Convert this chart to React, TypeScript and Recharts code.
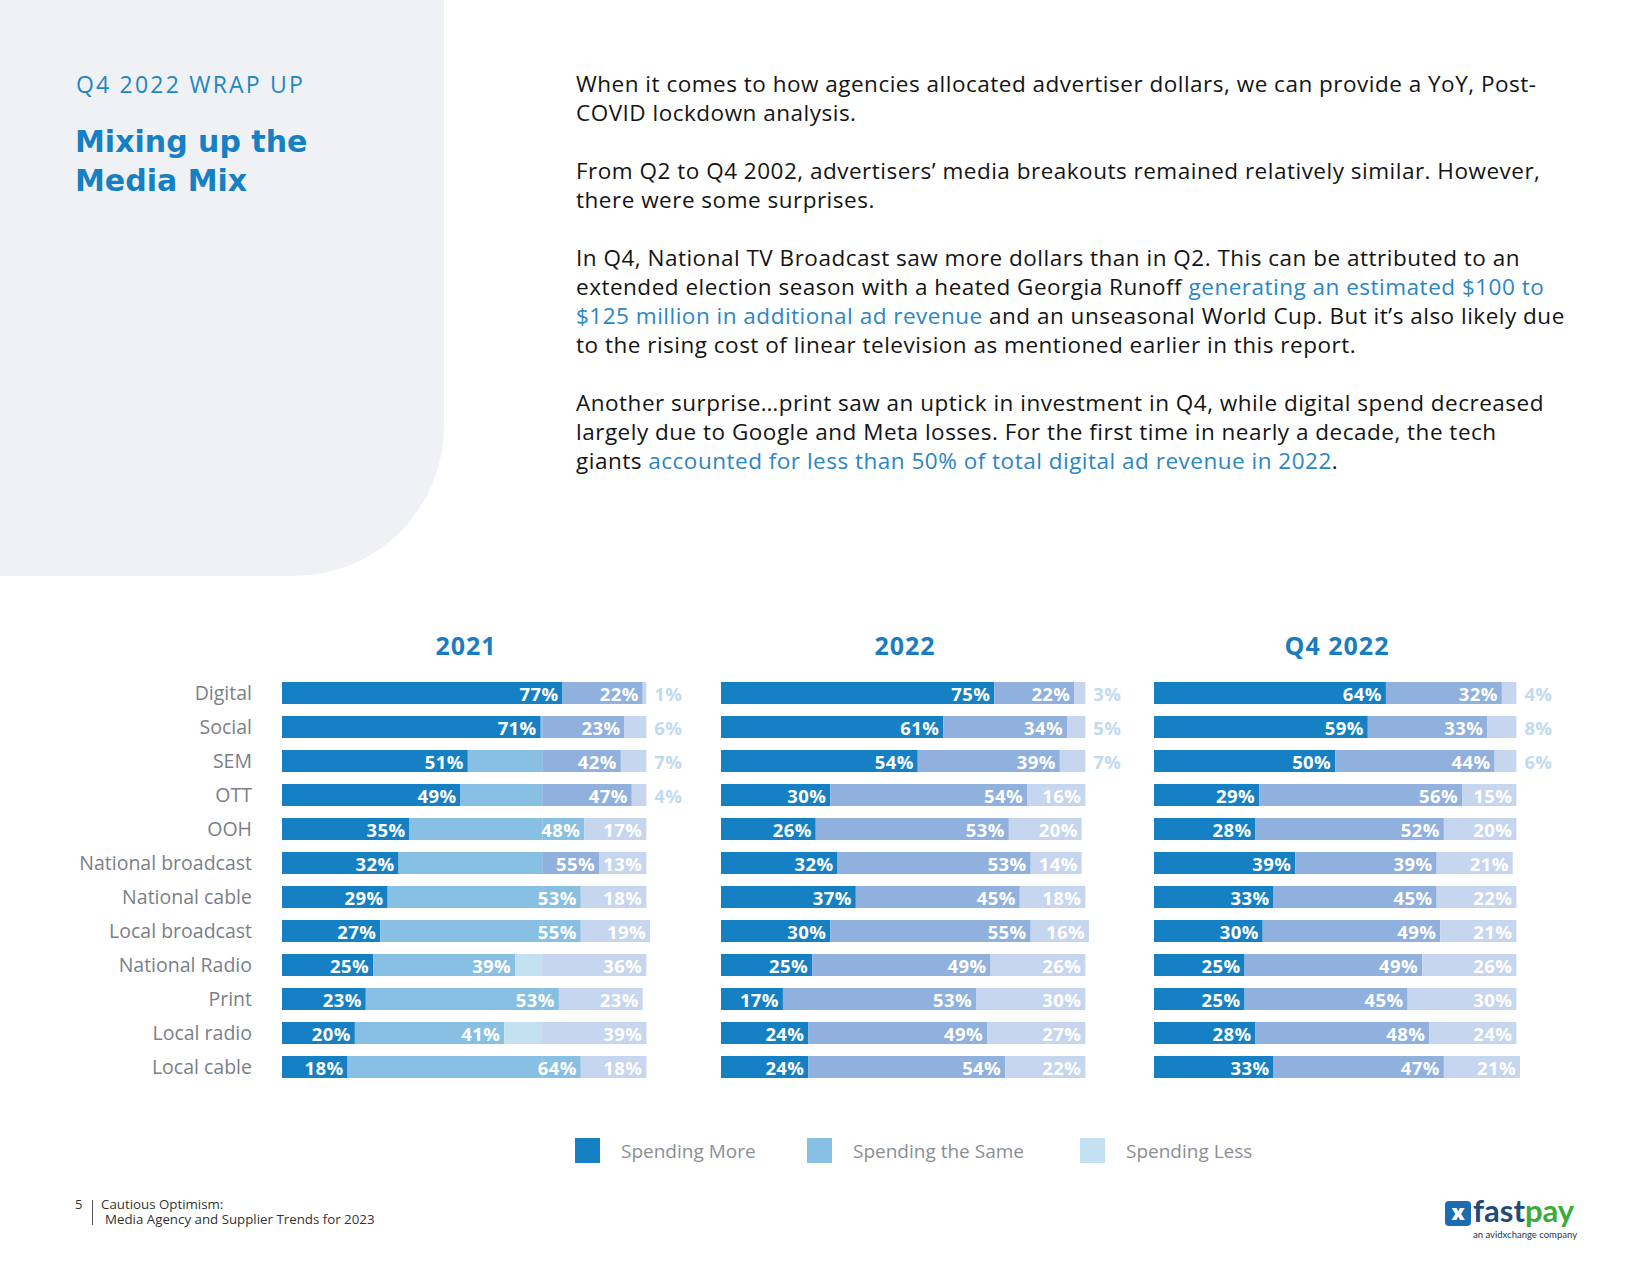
import React from "react";
import { BarChart, Bar, XAxis, YAxis, LabelList } from "recharts";

const categories = [
  "Digital", "Social", "SEM", "OTT", "OOH", "National broadcast", "National cable",
  "Local broadcast", "National Radio", "Print", "Local radio", "Local cable",
];

const more2021 = [77, 71, 51, 49, 35, 32, 29, 27, 25, 23, 20, 18];
const same2021 = [22, 23, 42, 47, 48, 55, 53, 55, 39, 53, 41, 64];
const less2021 = [1, 6, 7, 4, 17, 13, 18, 19, 36, 23, 39, 18];

const more2022 = [75, 61, 54, 30, 26, 32, 37, 30, 25, 17, 24, 24];
const same2022 = [22, 34, 39, 54, 53, 53, 45, 55, 49, 53, 49, 54];
const less2022 = [3, 5, 7, 16, 20, 14, 18, 16, 26, 30, 27, 22];

const moreQ4 = [64, 59, 50, 29, 28, 39, 33, 30, 25, 25, 28, 33];
const sameQ4 = [32, 33, 44, 56, 52, 39, 45, 49, 49, 45, 48, 47];
const lessQ4 = [4, 8, 6, 15, 20, 21, 22, 21, 26, 30, 24, 21];

const seriesNames = ["Spending More", "Spending the Same", "Spending Less"];

const FONT = "'Open Sans', Lato, sans-serif";
const HEAD_FONT = "'DejaVu Sans', 'Open Sans', sans-serif";
const C_MORE = "#1581c4";
const C_SKY = "#88c0e4";
const C_SKY_LIGHT = "#c4e1f2";
const C_PERI = "#90b1de";
const C_LAV = "#c6d6ef";
const C_OUT = "#c2daef";
const legendColors = [C_MORE, C_SKY, C_SKY_LIGHT];

// the 2021 panel switches to the 2022 palette past this point (as in the source pdf)
const P1_LEFT = 282;
const P1_WIDTH = 368;
const SPLIT_PCT = 70.7;
const periRows2021 = ["Digital", "Social", "SEM", "OTT", "National broadcast"];

const toRows = (more: number[], same: number[], less: number[]) =>
  categories.map((c, i) => ({ category: c, more: more[i], same: same[i], less: less[i] }));

const rows2021 = toRows(more2021, same2021, less2021);
const rows2022 = toRows(more2022, same2022, less2022);
const rowsQ4 = toRows(moreQ4, sameQ4, lessQ4);

function splitShape(leftFill: string, rightFill: (cat: string) => string) {
  return (p: any) => {
    const { x, y, width, height, payload } = p;
    const cut = P1_LEFT + (P1_WIDTH * SPLIT_PCT) / 100;
    const rf = rightFill(payload?.category);
    if (x >= cut) return <rect x={x} y={y} width={width} height={height} fill={rf} />;
    if (x + width <= cut) return <rect x={x} y={y} width={width} height={height} fill={leftFill} />;
    return (
      <g>
        <rect x={x} y={y} width={cut - x} height={height} fill={leftFill} />
        <rect x={cut} y={y} width={x + width - cut} height={height} fill={rf} />
      </g>
    );
  };
}

const valueLabel = (props: any) => {
  const vb = props.viewBox ?? props;
  const { x, y, width, height } = vb;
  const outside = width < 40;
  return (
    <text
      x={outside ? x + width + 8 : x + width - 4}
      y={y + height / 2}
      textAnchor={outside ? "start" : "end"}
      dominantBaseline="central"
      fill={outside ? C_OUT : "#ffffff"}
      fontSize={18.5}
      fontWeight={700}
      letterSpacing={0.4}
      fontFamily={FONT}
    >
      {props.value}%
    </text>
  );
};

type PanelProps = {
  data: any[];
  left: number;
  width: number;
  margin: { top: number; right: number; bottom: number; left: number };
  showAxis?: boolean;
  is2021?: boolean;
};

function Panel({ data, left, width, margin, showAxis, is2021 }: PanelProps) {
  return (
    <div style={{ position: "absolute", left, top: 620 }}>
      <BarChart width={width} height={500} data={data} layout="vertical" margin={margin} barSize={22}>
        <XAxis type="number" domain={[0, 100]} hide />
        <YAxis
          type="category"
          dataKey="category"
          hide={!showAxis}
          width={250}
          axisLine={false}
          tickLine={false}
          tickSize={0}
          tickMargin={30}
          tick={{ fill: "#7b8088", fontSize: 19.5, fontFamily: FONT }}
        />
        <Bar dataKey="more" stackId="a" fill={C_MORE} isAnimationActive={false}>
          <LabelList dataKey="more" content={valueLabel} />
        </Bar>
        <Bar
          dataKey="same"
          stackId="a"
          fill={is2021 ? C_SKY : C_PERI}
          isAnimationActive={false}
          shape={is2021 ? splitShape(C_SKY, (c) => (periRows2021.includes(c) ? C_PERI : C_SKY)) : undefined}
        >
          <LabelList dataKey="same" content={valueLabel} />
        </Bar>
        <Bar
          dataKey="less"
          stackId="a"
          fill={is2021 ? C_SKY_LIGHT : C_LAV}
          isAnimationActive={false}
          shape={is2021 ? splitShape(C_SKY_LIGHT, () => C_LAV) : undefined}
        >
          <LabelList dataKey="less" content={valueLabel} />
        </Bar>
      </BarChart>
    </div>
  );
}

const titleStyle = (left: number, width: number): React.CSSProperties => ({
  position: "absolute",
  left,
  width,
  top: 633,
  textAlign: "center",
  fontFamily: FONT,
  fontWeight: 700,
  fontSize: 25,
  lineHeight: "25px",
  letterSpacing: 1,
  color: "#1a7dc0",
});

const body: React.CSSProperties = { whiteSpace: "nowrap" };
const link: React.CSSProperties = { color: "#2b86c5" };

export default function App() {
  const legendX = [575, 807, 1080];
  return (
    <div style={{ position: "absolute", left: 0, top: 0, width: 1650, height: 1275, background: "#fff", overflow: "hidden", fontFamily: FONT }}>
      <div style={{ position: "absolute", left: 0, top: 0, width: 444, height: 576, background: "#eff1f4", borderBottomRightRadius: 150 }} />
      <div style={{ position: "absolute", left: 76, top: 72, fontSize: 23, lineHeight: "24px", letterSpacing: 2.2, color: "#1f86c6", whiteSpace: "nowrap" }}>
        Q4 2022 WRAP UP
      </div>
      <div style={{ position: "absolute", left: 75, top: 122, fontFamily: HEAD_FONT, fontSize: 30, lineHeight: "39px", fontWeight: 700, color: "#1580c3", whiteSpace: "nowrap" }}>
        <div>Mixing up the</div>
        <div>Media Mix</div>
      </div>

      <div style={{ position: "absolute", left: 576, top: 69, fontSize: 22.5, lineHeight: "29px", letterSpacing: 0.5, color: "#141414" }}>
        <div style={body}>When it comes to how agencies allocated advertiser dollars, we can provide a YoY, Post-</div>
        <div style={body}>COVID lockdown analysis.</div>
        <div style={{ height: 29 }} />
        <div style={body}>From Q2 to Q4 2002, advertisers’ media breakouts remained relatively similar. However,</div>
        <div style={body}>there were some surprises.</div>
        <div style={{ height: 29 }} />
        <div style={body}>In Q4, National TV Broadcast saw more dollars than in Q2. This can be attributed to an</div>
        <div style={body}>extended election season with a heated Georgia Runoff <span style={link}>generating an estimated $100 to</span></div>
        <div style={body}><span style={link}>$125 million in additional ad revenue</span> and an unseasonal World Cup. But it’s also likely due</div>
        <div style={body}>to the rising cost of linear television as mentioned earlier in this report.</div>
        <div style={{ height: 29 }} />
        <div style={body}>Another surprise…print saw an uptick in investment in Q4, while digital spend decreased</div>
        <div style={body}>largely due to Google and Meta losses. For the first time in nearly a decade, the tech</div>
        <div style={body}>giants <span style={link}>accounted for less than 50% of total digital ad revenue in 2022</span>.</div>
      </div>

      <div style={titleStyle(282, 368)}>2021</div>
      <div style={titleStyle(721, 368)}>2022</div>
      <div style={titleStyle(1154, 366)}>Q4 2022</div>

      <Panel data={rows2021} left={0} width={700} margin={{ top: 56, right: 50, bottom: 36, left: 32 }} showAxis is2021 />
      <Panel data={rows2022} left={690} width={450} margin={{ top: 56, right: 51, bottom: 36, left: 31 }} />
      <Panel data={rowsQ4} left={1130} width={450} margin={{ top: 56, right: 60, bottom: 36, left: 24 }} />

      {seriesNames.map((name, i) => (
        <div key={name} style={{ position: "absolute", left: legendX[i], top: 1138, display: "flex", alignItems: "center", height: 25 }}>
          <div style={{ width: 25, height: 25, background: legendColors[i] }} />
          <div style={{ marginLeft: 21, fontSize: 19, color: "#8a8f96", whiteSpace: "nowrap" }}>{name}</div>
        </div>
      ))}

      <div style={{ position: "absolute", left: 75, top: 1197, fontSize: 13, lineHeight: "15px", color: "#333" }}>5</div>
      <div style={{ position: "absolute", left: 92, top: 1200, width: 1, height: 25, background: "#555" }} />
      <div style={{ position: "absolute", left: 101, top: 1197, fontSize: 13.3, lineHeight: "15px", color: "#333", whiteSpace: "nowrap" }}>
        Cautious Optimism:
      </div>
      <div style={{ position: "absolute", left: 105, top: 1212, fontSize: 13.3, lineHeight: "15px", color: "#333", whiteSpace: "nowrap" }}>
        Media Agency and Supplier Trends for 2023
      </div>

      <div style={{ position: "absolute", left: 1445, top: 1201, width: 26, height: 25, borderRadius: 4, background: "#1d6bb0", color: "#fff", fontWeight: 800, fontSize: 21, lineHeight: "23px", textAlign: "center" }}>
        x
      </div>
      <div style={{ position: "absolute", left: 1473, top: 1195, fontFamily: "Lato, sans-serif", fontSize: 31, lineHeight: "31px", fontWeight: 700, whiteSpace: "nowrap" }}>
        <span style={{ color: "#1f4b7a" }}>fast</span><span style={{ color: "#3cab3a" }}>pay</span>
      </div>
      <div style={{ position: "absolute", left: 1473, top: 1230, fontFamily: "Lato, sans-serif", fontSize: 9.5, lineHeight: "10px", color: "#1f3550", whiteSpace: "nowrap" }}>
        an avidxchange company
      </div>
    </div>
  );
}
